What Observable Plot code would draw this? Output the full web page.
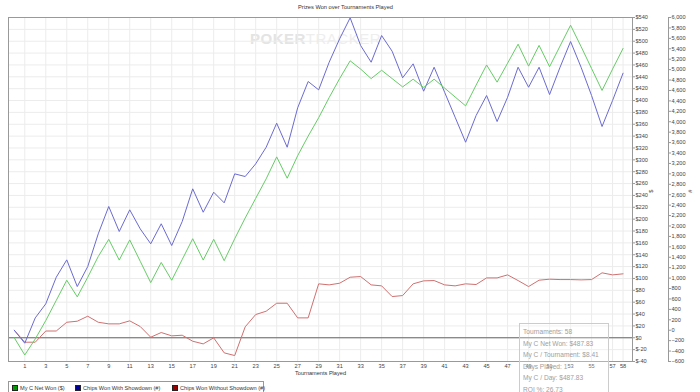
<!DOCTYPE html>
<html>
<head>
<meta charset="utf-8">
<script src="https://cdn.jsdelivr.net/npm/d3@7"></script>
<script src="https://cdn.jsdelivr.net/npm/@observablehq/plot@0.6"></script>
<style>
  html, body { margin: 0; padding: 0; background: #fff; }
  #wrap { position: relative; width: 700px; height: 392px; overflow: hidden; font-family: 'Liberation Sans', Arial, sans-serif; }
  #title { position: absolute; top: 3px; left: 0; width: 691px; text-align: center; font-size: 5.7px; color: #333; line-height: 8px; }
  #chart { position: absolute; top: 0; left: 0; }
  #watermark { position: absolute; top: 31px; left: 250px; font-size: 15px; letter-spacing: 0.5px; line-height: 16px; white-space: nowrap; }
  #watermark b { color: #e4e4e4; }
  #watermark span { color: #eeeeee; }
  #legend { position: absolute; top: 381px; left: 8px; width: 256px; height: 14px; border: 1px solid #999; box-sizing: border-box; font-size: 5.6px; color: #333; }
  .item { position: absolute; top: 3px; white-space: nowrap; line-height: 7px; }
  .sw { display: inline-block; width: 4px; height: 4px; border: 1px solid #222; vertical-align: -1px; margin-right: 2px; }
  #tip { position: absolute; left: 519px; top: 323px; width: 90px; height: 90px; border: 1px solid #ccc; box-sizing: border-box; background: rgba(255,255,255,0.25); color: #a0a0a0; font-size: 6.6px; line-height: 11.6px; padding: 2px 0 0 3px; white-space: nowrap; }
</style>
</head>
<body>
<div id="wrap">
  <div id="watermark"><b>POKER</b><span>TRACKER</span></div>
  <div id="chart"></div>
  <div id="title">Prizes Won over Tournaments Played</div>
  <div id="legend"></div>
  <div id="tip"></div>
</div>
<script>
const tournaments = d3.range(0, 59);
const netWon = [0, -29, -2, 29, 63, 97, 69, 102, 137, 166, 131, 165, 129, 93, 127, 97, 132, 167, 131, 166,
  130, 167, 202, 235, 268, 305, 269, 307, 340, 371, 405, 437, 467, 453, 437, 451, 437, 423, 436, 422,
  436, 421, 406, 391, 426, 460, 431, 463, 495, 458, 493, 457, 492, 527, 491, 454, 417, 453, 487.83];
const chipsShowdown = [0, -249, 237, 506, 1017, 1350, 838, 1222, 1849, 2374, 1894, 2310, 1945, 1658, 2042, 1625, 2086, 2713, 2264, 2648,
  2444, 3000, 2949, 3192, 3511, 3972, 3511, 4267, 4772, 4612, 5142, 5591, 5994, 5462, 5142, 5654, 5353, 4843, 5111, 4586,
  5046, 4566, 4087, 3607, 4119, 4503, 4004, 4470, 5046, 4662, 5046, 4522, 5046, 5539, 5046, 4503, 3908, 4407, 4931];
const chipsNoShowdown = [0, -230, -230, -15, -15, 153, 173, 269, 153, 122, 122, 180, 71, -134, -44, -108, -96, -211, -262, -146,
  -434, -486, 65, 301, 365, 518, 518, 237, 237, 890, 870, 902, 1017, 1030, 870, 851, 646, 665, 890, 947,
  953, 870, 851, 890, 877, 1004, 1004, 1062, 953, 838, 960, 979, 972, 972, 966, 972, 1101, 1062, 1082];
const xTicks = [...d3.range(1, 58, 2), 58];
const dollarTicks = d3.range(-40, 541, 20);
const chipTicks = d3.range(-600, 6001, 200);
const seriesNames = ["My C Net Won ($)", "Chips Won With Showdown (#)", "Chips Won Without Showdown (#)"];
const lineColors = ["#66cc66", "#6b6bd0", "#d07070"];
const swatchColors = ["#009900", "#000099", "#990000"];
const tipLines = ["Tournaments: 58", "My C Net Won: $487.83", "My C / Tournament: $8.41", "Days Played: 1", "My C / Day: $487.83", "ROI %: 26.73"];

const rows = tournaments.map((t, i) => ({t, net: netWon[i], shw: chipsShowdown[i], noshw: chipsNoShowdown[i]}));
// secondary (#) axis mapped onto the $ scale: -600..6000 <-> -40..540
const toDollar = c => -40 + (c + 600) * 580 / 6600;
const fromDollar = v => (v + 40) * 6600 / 580 - 600;
const fmtChips = d3.format(",");

const chart = Plot.plot({
  width: 700,
  height: 381,
  marginLeft: 8,
  marginRight: 68,
  marginTop: 17,
  marginBottom: 20,
  style: {fontSize: "5.6px", fontFamily: "'Liberation Sans', Arial, sans-serif", color: "#333", background: "transparent", overflow: "visible"},
  x: {domain: [-0.55, 58.9]},
  y: {domain: [-40, 540]},
  marks: [
    Plot.gridX(xTicks, {stroke: "#ececec", strokeOpacity: 1}),
    Plot.gridY(dollarTicks, {stroke: "#ececec", strokeOpacity: 1}),
    Plot.ruleY([0], {stroke: "#666"}),
    Plot.line(rows, {x: "t", y: d => toDollar(d.noshw), stroke: lineColors[2], strokeWidth: 1}),
    Plot.line(rows, {x: "t", y: d => toDollar(d.shw), stroke: lineColors[1], strokeWidth: 1}),
    Plot.line(rows, {x: "t", y: "net", stroke: lineColors[0], strokeWidth: 1}),
    Plot.frame({stroke: "#999"}),
    Plot.frame({anchor: "right", dx: 36, stroke: "#999"}),
    Plot.axisX(xTicks, {tickSize: 0, tickPadding: 2.5, label: null, fill: "#444"}),
    Plot.axisY(dollarTicks, {anchor: "right", tickSize: 2, tickPadding: 1, label: null, stroke: "#999", fill: "#444", tickFormat: d => `$${d}`}),
    Plot.axisY(chipTicks.map(toDollar), {anchor: "right", dx: 36, tickSize: 2, tickPadding: 1, label: null, stroke: "#999", fill: "#444", tickFormat: d => fmtChips(Math.round(fromDollar(d)))}),
    Plot.text(["Tournaments Played"], {frameAnchor: "bottom", dy: 13, fill: "#333"}),
    Plot.text(["$"], {frameAnchor: "right", dx: 19, rotate: -90, fill: "#444"}),
    Plot.text(["#"], {frameAnchor: "right", dx: 58, rotate: -90, fill: "#444"})
  ]
});
document.getElementById("chart").appendChild(chart);

const legend = document.getElementById("legend");
const itemLeft = [3, 66, 163];
seriesNames.forEach((name, i) => {
  const el = document.createElement("div");
  el.className = "item";
  el.style.left = itemLeft[i] + "px";
  el.innerHTML = `<span class="sw" style="background:${swatchColors[i]}"></span>${name}`;
  legend.appendChild(el);
});
document.getElementById("tip").innerHTML = tipLines.map(s => `<div>${s}</div>`).join("");
</script>
</body>
</html>
